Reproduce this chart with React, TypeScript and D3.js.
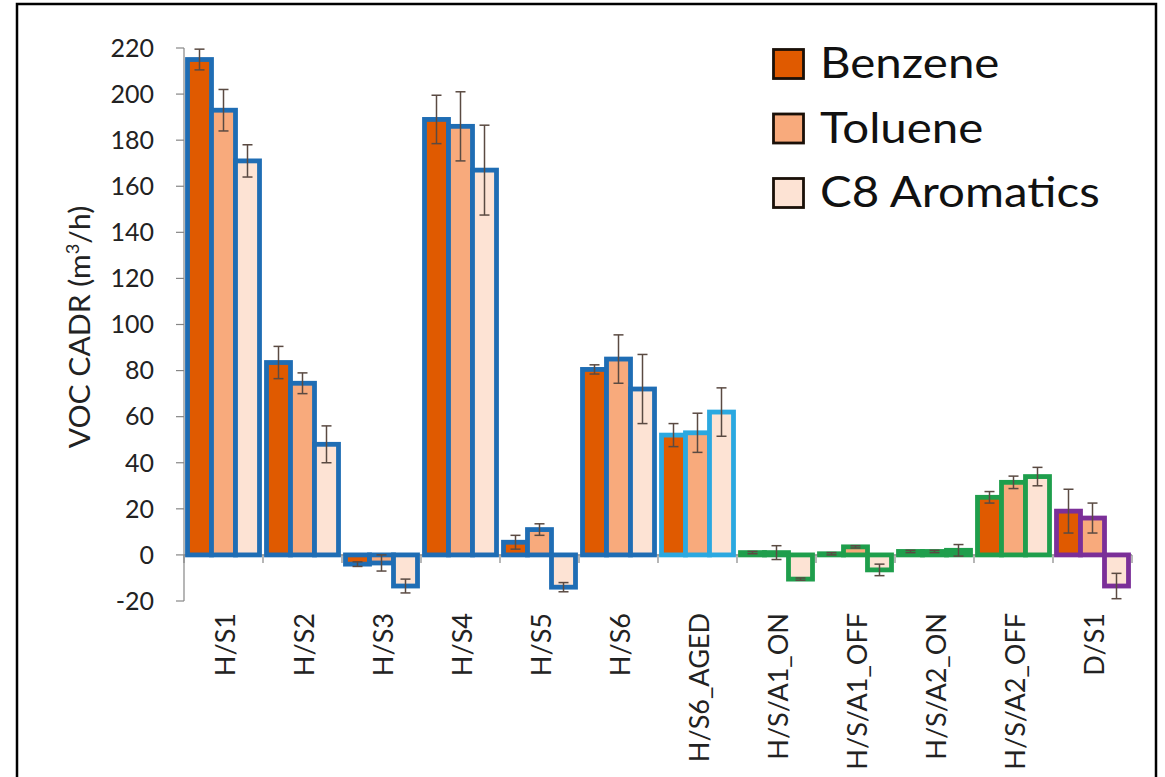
import React from "react";
import * as d3 from "d3";

const categories = ["H/S1", "H/S2", "H/S3", "H/S4", "H/S5", "H/S6", "H/S6_AGED", "H/S/A1_ON", "H/S/A1_OFF", "H/S/A2_ON", "H/S/A2_OFF", "D/S1"];
const seriesNames = ["Benzene", "Toluene", "C8 Aromatics"];
const benzene = [215, 83.5, -4, 189, 5.5, 80.5, 52, 1, 0.5, 1.5, 25, 19];
const toluene = [193, 74.5, -3.5, 186, 11, 85, 53, 1, 3.5, 1.5, 31.5, 16];
const c8 = [171, 48, -13.5, 167, -14, 72, 62, -10.5, -6.5, 2, 34, -13.5];
const benzeneErr = [4.5, 7, 1, 10.5, 3, 2, 5, 0.5, 0.5, 0.5, 2.5, 9.5];
const tolueneErr = [9, 4.5, 3.5, 15, 2.5, 10.5, 8.5, 3, 0.5, 0.5, 2.7, 6.5];
const c8Err = [7, 8, 3, 19.5, 2, 15, 10.5, 0.5, 2.5, 2.5, 4, 5.5];
const yTicks = [-20, 0, 20, 40, 60, 80, 100, 120, 140, 160, 180, 200, 220];

const seriesValues = [benzene, toluene, c8];
const seriesErrors = [benzeneErr, tolueneErr, c8Err];
const fills = ["#e05a00", "#f8aa7c", "#fde3d4"];

function outlineFor(cat: string): string {
  if (cat === "H/S6_AGED") return "#2ba8e0";
  if (cat.startsWith("H/S/A")) return "#1f9e4c";
  if (cat.startsWith("D/")) return "#7b2f98";
  return "#1f6db4";
}

export default function App() {
  const W = 1165, H = 777;
  const x = d3.scaleBand<string>().domain(categories).range([184, 1132]).paddingInner(0).paddingOuter(0);
  const y = d3.scaleLinear().domain([-20, 220]).range([601, 48]);
  const bw = x.bandwidth();
  const xi = d3.scaleBand<number>().domain([0, 1, 2]).range([3.5, bw - 3.5]).padding(0);
  const axisColor = "#868686";
  const font = "Lato, 'Open Sans', sans-serif";

  const bars: React.ReactNode[] = [];
  const errs: React.ReactNode[] = [];
  categories.forEach((cat, ci) => {
    const x0 = x(cat)!;
    seriesValues.forEach((vals, si) => {
      const v = vals[ci];
      const bx = x0 + xi(si)!;
      const top = Math.min(y(v), y(0));
      const h = Math.abs(y(v) - y(0));
      bars.push(
        <rect key={`b${ci}-${si}`} x={bx} y={top} width={xi.bandwidth()} height={Math.max(h, 0.5)}
          fill={fills[si]} stroke={outlineFor(cat)} strokeWidth={4.8} />
      );
      const e = seriesErrors[si][ci];
      const cx = bx + xi.bandwidth() / 2;
      const y1 = y(v + e), y2 = y(v - e);
      errs.push(
        <g key={`e${ci}-${si}`} stroke="#5a4a42" strokeWidth={1.5}>
          <line x1={cx} x2={cx} y1={y1} y2={y2} />
          <line x1={cx - 5} x2={cx + 5} y1={y1} y2={y1} />
          <line x1={cx - 5} x2={cx + 5} y1={y2} y2={y2} />
        </g>
      );
    });
  });

  const boundaries = [...categories.map((c) => x(c)!), x(categories[categories.length - 1])! + bw];

  return (
    <div style={{ position: "absolute", left: 0, top: 0 }}>
      <svg width={W} height={H} style={{ display: "block", background: "#fff" }}>
        <rect x={17} y={4} width={1139} height={H + 20} fill="#fff" stroke="#000" strokeWidth={2.5} />

        {/* y axis */}
        <line x1={184} x2={184} y1={y(-20)} y2={y(220)} stroke={axisColor} strokeWidth={1.2} />
        {yTicks.map((t) => (
          <g key={`yt${t}`}>
            <line x1={176} x2={184} y1={y(t)} y2={y(t)} stroke={axisColor} strokeWidth={1.2} />
            <text x={154} y={y(t)} dy="0.35em" textAnchor="end" fontFamily={font} fontSize={25} fill="#222">{t}</text>
          </g>
        ))}

        {/* x axis */}
        <line x1={184} x2={1132} y1={y(0)} y2={y(0)} stroke={axisColor} strokeWidth={1.2} />
        {boundaries.map((bx, i) => (
          <line key={`xt${i}`} x1={bx} x2={bx} y1={y(0)} y2={y(0) + 8} stroke={axisColor} strokeWidth={1.2} />
        ))}

        {bars}
        {errs}

        {categories.map((cat) => (
          <text key={`xl${cat}`} transform={`translate(${x(cat)! + bw / 2 + 2},613) rotate(-90)`} dy="0.35em"
            textAnchor="end" fontFamily={font} fontSize={27} fill="#222">{cat}</text>
        ))}

        {/* y title */}
        <text transform="translate(80,327) rotate(-90) scale(1.075,1)" dy="0.35em" textAnchor="middle" fontFamily={font} fontSize={28} fill="#222">
          VOC CADR (m<tspan fontSize={17} dy="-11">3</tspan><tspan dy="11">/h)</tspan>
        </text>

        {/* legend */}
        {seriesNames.map((name, i) => (
          <g key={`lg${i}`} transform={`translate(772,${48 + i * 64.5})`}>
            <rect x={1.5} y={1.5} width={30} height={29} fill={fills[i]} stroke="#1a1008" strokeWidth={2.8} />
            <text transform="translate(48,30) scale(1.13,1)" fontFamily={font} fontSize={42} fill="#111">{name}</text>
          </g>
        ))}
      </svg>
    </div>
  );
}
